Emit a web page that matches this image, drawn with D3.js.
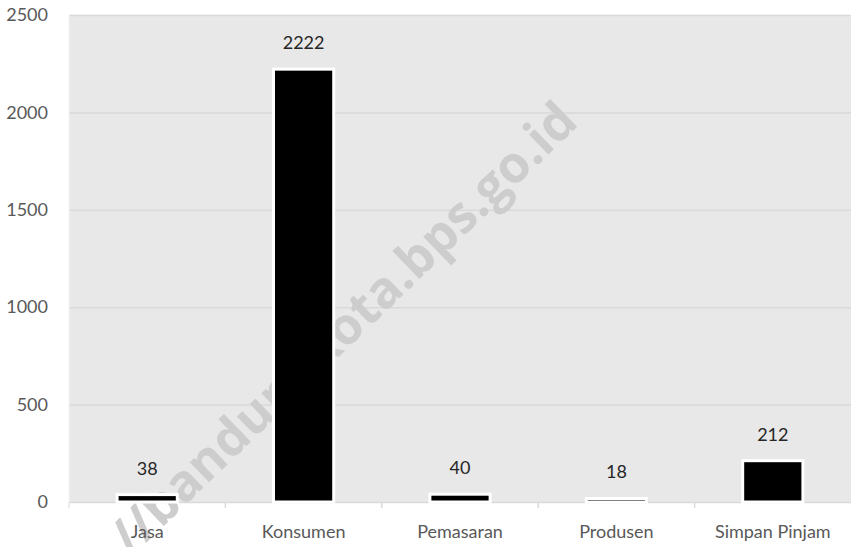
<!DOCTYPE html>
<html>
<head>
<meta charset="utf-8">
<script src="https://unpkg.com/d3@7.8.5/dist/d3.min.js"></script>
<style>
  body { margin: 0; background: #fff; }
  svg { display: block; }
</style>
</head>
<body>
<div id="chart"></div>
<script>
// data
let categories = ["Jasa", "Konsumen", "Pemasaran", "Produsen", "Simpan Pinjam"];
let values = [38, 2222, 40, 18, 212];
let yTicks = [0, 500, 1000, 1500, 2000, 2500];
let watermark = "//bandungkota.bps.go.id";

let width = 851;
let height = 547;
let marginTop = 15;
let marginRight = 0;
let marginBottom = 45;
let marginLeft = 69;

let font = "Lato, 'Open Sans', sans-serif";
let fontSize = 18;

let svg = d3.select("#chart").append("svg")
    .attr("width", width)
    .attr("height", height);

let x = d3.scaleBand()
    .domain(categories)
    .range([marginLeft, width - marginRight])
    .paddingInner(0.615)
    .paddingOuter(0.3075);

let y = d3.scaleLinear()
    .domain([0, 2500])
    .range([height - marginBottom, marginTop]);

// plot background
svg.append("rect")
    .attr("x", marginLeft)
    .attr("y", marginTop)
    .attr("width", width - marginRight - marginLeft)
    .attr("height", y(0) - marginTop)
    .attr("fill", "#e8e8e8");

// gridlines
svg.append("g")
    .selectAll("line")
    .data(yTicks.filter(d => d > 0))
    .join("line")
        .attr("x1", marginLeft)
        .attr("x2", width - marginRight)
        .attr("y1", d => y(d) + 0.5)
        .attr("y2", d => y(d) + 0.5)
        .attr("stroke", "#d9d9d9")
        .attr("stroke-width", 1.5);

// watermark
svg.append("text")
    .attr("transform", "translate(580,124) rotate(-44)")
    .attr("text-anchor", "end")
    .attr("font-family", "'Open Sans', sans-serif")
    .attr("font-weight", "bold")
    .attr("font-size", 51)
    .attr("fill", "#cdcdcd")
    .text(watermark);

// y axis labels
let yAxis = d3.axisLeft(y)
    .tickValues(yTicks)
    .tickFormat(d3.format("d"))
    .tickSize(0)
    .tickPadding(21);

svg.append("g")
    .attr("transform", `translate(${marginLeft},0)`)
    .call(yAxis)
    .call(g => g.select(".domain").remove())
    .call(g => g.selectAll("text")
        .attr("font-family", font)
        .attr("font-size", fontSize)
        .attr("fill", "#595959"));

// x axis, ticks on category boundaries
let xAxis = d3.axisBottom(x).tickSize(0).tickPadding(23);

svg.append("g")
    .attr("transform", `translate(0,${y(0)})`)
    .call(xAxis)
    .call(g => g.select(".domain")
        .attr("stroke", "#d9d9d9")
        .attr("stroke-width", 1.5))
    .call(g => g.selectAll("text")
        .attr("font-family", font)
        .attr("font-size", fontSize)
        .attr("fill", "#595959"));

let step = x.step();
svg.append("g")
    .selectAll("line")
    .data(categories)
    .join("line")
        .attr("x1", d => x(d) - (step - x.bandwidth()) / 2)
        .attr("x2", d => x(d) - (step - x.bandwidth()) / 2)
        .attr("y1", y(0))
        .attr("y2", y(0) + 6)
        .attr("stroke", "#d9d9d9")
        .attr("stroke-width", 1.5);

svg.append("line")
    .attr("x1", marginLeft).attr("x2", marginLeft)
    .attr("y1", marginTop).attr("y2", y(0) + 6)
    .attr("stroke", "#f4f4f4");

// bars
svg.append("g")
    .selectAll("rect")
    .data(values)
    .join("rect")
        .attr("x", (d, i) => x(categories[i]))
        .attr("y", d => y(d))
        .attr("width", x.bandwidth())
        .attr("height", d => y(0) - y(d))
        .attr("fill", "black")
        .attr("stroke", "white")
        .attr("stroke-width", 3);

// value labels
svg.append("g")
    .selectAll("text")
    .data(values)
    .join("text")
        .attr("x", (d, i) => x(categories[i]) + x.bandwidth() / 2)
        .attr("y", d => y(d) - 20)
        .attr("text-anchor", "middle")
        .attr("font-family", font)
        .attr("font-size", fontSize)
        .attr("fill", "#262626")
        .text(d => d);
</script>
</body>
</html>
